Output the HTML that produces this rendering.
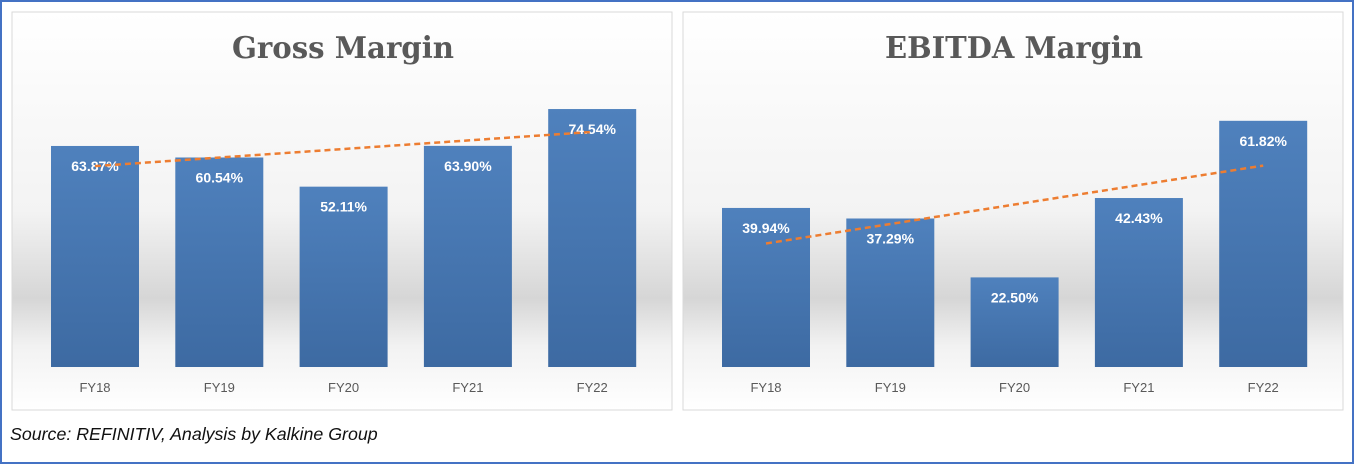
<!DOCTYPE html>
<html><head><meta charset="utf-8"><style>
body{margin:0;width:1354px;height:464px;overflow:hidden;background:#fff;font-family:"Liberation Sans",sans-serif}
#frame{position:absolute;left:0;top:0;width:1350px;height:460px;border:2px solid #4472c4}
.src{position:absolute;left:10px;top:424px;font-style:italic;font-size:17.8px;color:#111}
</style></head><body>
<div id="frame"></div>
<svg width="1354" height="464" style="position:absolute;left:0;top:0">
<defs>
<linearGradient id="bg" x1="0" y1="0" x2="0" y2="1">
<stop offset="0" stop-color="#ffffff"/><stop offset="0.5" stop-color="#f3f3f3"/>
<stop offset="0.72" stop-color="#d6d6d6"/><stop offset="0.84" stop-color="#f2f2f2"/><stop offset="1" stop-color="#ffffff"/>
</linearGradient>
<linearGradient id="bar" x1="0" y1="0" x2="0" y2="1">
<stop offset="0" stop-color="#4f81bd"/><stop offset="1" stop-color="#3d6aa2"/>
</linearGradient>
</defs>
<g id="g"></g>
</svg>
<div class="src">Source: REFINITIV, Analysis by Kalkine Group</div>
<script>
const categories=["FY18","FY19","FY20","FY21","FY22"];
const grossValues=[63.87,60.54,52.11,63.90,74.54];
const ebitdaValues=[39.94,37.29,22.50,42.43,61.82];
const grossLabels=["63.87%","60.54%","52.11%","63.90%","74.54%"];
const ebitdaLabels=["39.94%","37.29%","22.50%","42.43%","61.82%"];
const NS="http://www.w3.org/2000/svg";
const g=document.getElementById('g');
function mk(t,a,p){const e=document.createElementNS(NS,t);for(const k in a)e.setAttribute(k,a[k]);(p||g).appendChild(e);return e;}
function chart(px,title,vals,labels,yMax,name){
  const grp=mk('g',{});
  
  
  const panel=mk('rect',{x:px,y:12,width:660,height:398,fill:'url(#bg)',stroke:'#d9d9d9'},grp);
  
  
  const t=mk('text',{x:px+331,y:58,'text-anchor':'middle','font-size':30,'font-weight':'bold','font-family':'"DejaVu Serif",serif',fill:'#595959',textLength:title.length>12?258:222,lengthAdjust:'spacingAndGlyphs'},grp);
  t.textContent=title;
  
  
  const base=367,plotH=367-50;
  const y=v=>base-v/yMax*plotH;
  const xc=i=>px+83+i*124.3;
  vals.forEach((v,i)=>{
    const b=mk('rect',{x:xc(i)-44,y:y(v),width:88,height:base-y(v),fill:'url(#bar)'},grp);
    
    
    const l=mk('text',{x:xc(i),y:y(v)+25,'text-anchor':'middle','font-size':14,'font-weight':'bold',fill:'#fff'},grp);
    l.textContent=labels[i];
    
    
    const c=mk('text',{x:xc(i),y:392,'text-anchor':'middle','font-size':13,fill:'#595959'},grp);
    c.textContent=categories[i];
    
    
  });
  const n=vals.length,mx=(n-1)/2,my=vals.reduce((a,b)=>a+b)/n;
  let num=0,den=0;vals.forEach((v,i)=>{num+=(i-mx)*(v-my);den+=(i-mx)*(i-mx);});
  const s=num/den,f=i=>my+s*(i-mx);
  const tl=mk('line',{x1:xc(0),y1:y(f(0)),x2:xc(n-1),y2:y(f(n-1)),stroke:'#ed7d31','stroke-width':2.5,'stroke-dasharray':'6,4'},grp);
  
  
}
chart(12,"Gross Margin",grossValues,grossLabels,91.6,"gross-margin-chart");
chart(683,"EBITDA Margin",ebitdaValues,ebitdaLabels,79.6,"ebitda-margin-chart");
</script>
</body></html>
